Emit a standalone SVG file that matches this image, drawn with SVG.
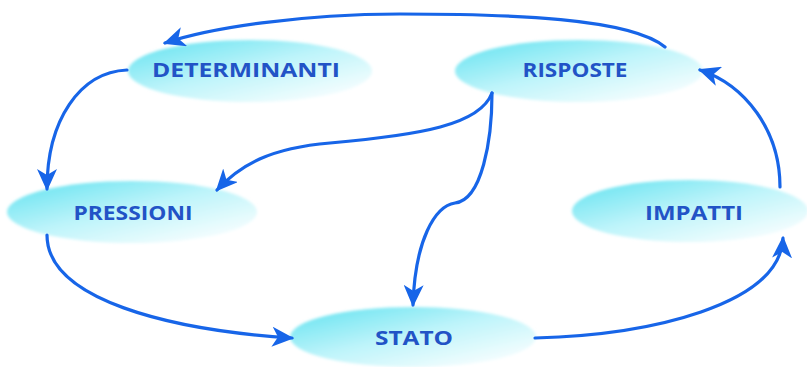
<svg xmlns="http://www.w3.org/2000/svg" width="807" height="367" viewBox="0 0 807 367">
<defs>
<linearGradient id="g" x1="0.05" y1="0.1" x2="0.9" y2="1">
<stop offset="0" stop-color="#6ee4f1"/>
<stop offset="0.45" stop-color="#bdf4fa"/>
<stop offset="1" stop-color="#ffffff"/>
</linearGradient>
<filter id="soft" x="-10%" y="-20%" width="120%" height="140%"><feGaussianBlur stdDeviation="1.5"/></filter>
<marker id="ah" viewBox="0 0 22 20" refX="20" refY="10" markerWidth="22" markerHeight="20" markerUnits="userSpaceOnUse" orient="auto">
<path d="M0,0 L22,10 L0,20 L6,10 Z" fill="#1765e8"/>
</marker>
<style>
.node ellipse{fill:url(#g);filter:url(#soft)}
.node text{font-family:"Open Sans","Liberation Sans",sans-serif;font-weight:700;font-size:19px;fill:#2253c6;text-anchor:middle}
.conn path{fill:none;stroke:#1765e8;stroke-width:3.2;stroke-linecap:round;marker-end:url(#ah)}
</style>
</defs>
<rect width="807" height="367" fill="#ffffff"/>
<g id="determinanti" class="node"><ellipse cx="250" cy="71" rx="122" ry="31"/><text x="246" y="77" textLength="188" lengthAdjust="spacingAndGlyphs">DETERMINANTI</text></g>
<g id="risposte" class="node"><ellipse cx="579" cy="71" rx="124" ry="31"/><text x="575" y="77" textLength="105" lengthAdjust="spacingAndGlyphs">RISPOSTE</text></g>
<g id="pressioni" class="node"><ellipse cx="132" cy="212" rx="125" ry="31"/><text x="133" y="220" textLength="119" lengthAdjust="spacingAndGlyphs">PRESSIONI</text></g>
<g id="impatti" class="node"><ellipse cx="690" cy="211" rx="118" ry="31"/><text x="694" y="220" textLength="98" lengthAdjust="spacingAndGlyphs">IMPATTI</text></g>
<g id="stato" class="node"><ellipse cx="413" cy="337" rx="123" ry="30"/><text x="414" y="345" textLength="78" lengthAdjust="spacingAndGlyphs">STATO</text></g>
<g id="connectors" class="conn">
<path d="M665,47 C630,18 510,14 400,14 C300,14 210,28 165,43"/>
<path d="M127,70 C80,72 47,120 47,189"/>
<path d="M47,235 C47,300 170,330 292,338"/>
<path d="M535,338 C650,335 780,305 783,238"/>
<path d="M780,187 C780,130 745,85 700,70"/>
<path d="M492,93 C480,125 420,135 330,143 C270,148 240,165 217,190"/>
<path d="M492,93 C492,140 482,200 455,203 C435,206 415,240 413,305"/>
</g>
</svg>
